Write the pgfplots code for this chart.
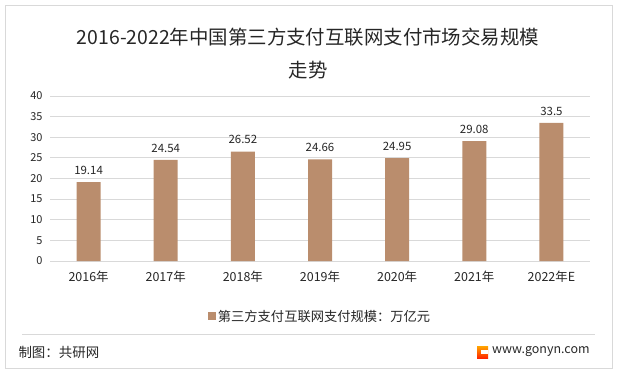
\documentclass[border=0pt]{standalone}
\usepackage{pgfplots}
\pgfplotsset{compat=1.18}
\usepackage{fontspec}
\setmainfont{Noto Sans CJK SC}
\definecolor{barc}{RGB}{186,141,109}
\definecolor{gridc}{RGB}{217,217,217}
\definecolor{txt}{RGB}{38,38,38}
\begin{document}
\begin{tikzpicture}[x=1bp,y=1bp]
\path[use as bounding box] (0,0) rectangle (617,373);
\draw[gridc,line width=0.8bp] (5,5) rectangle (612,368);
\draw[gridc,line width=0.8bp] (22,39) -- (595,39);
\node[anchor=west,font=\fontsize{13.5}{15}\selectfont,text=txt] at (15,21) {制图：共研网};
\shade[top color=orange!70!yellow, bottom color=red!70!orange] (477,15) rectangle (488,27);
\fill[white] (481,19) rectangle (488,23);
\node[anchor=west,font=\fontsize{12.5}{14}\selectfont,text=txt,inner sep=0] at (492,21) {www.gonyn.com};
\node[font=\fontsize{19.5}{21}\selectfont,text=txt] at (308,336) {2016-2022年中国第三方支付互联网支付市场交易规模};
\node[font=\fontsize{19.5}{21}\selectfont,text=txt] at (308,303) {走势};
\begin{axis}[
  at={(50bp,112bp)}, anchor=south west,
  scale only axis, width=540bp, height=165bp,
  xmin=-0.5, xmax=6.5, ymin=0, ymax=40,
  ytick={0,5,...,40},
  xtick={0,...,6},
  xticklabels={2016年,2017年,2018年,2019年,2020年,2021年,2022年E},
  axis line style={draw=none},
  axis x line*=bottom,
  x axis line style={draw=gridc},
  major tick length=0,
  ymajorgrids, grid style={gridc,line width=0.8bp},
  tick label style={text=txt},
  yticklabel style={font=\fontsize{11}{12}\selectfont, xshift=-4bp},
  xticklabel style={font=\fontsize{12.5}{14}\selectfont, yshift=-6bp},
  /pgf/number format/assume math mode=true,
  ybar, bar width=24bp,
  nodes near coords,
  every node near coord/.append style={font=\fontsize{11.5}{13}\selectfont, text=txt, yshift=4bp},
  point meta=explicit symbolic,
  legend style={at={(0.5,-0.335)}, anchor=center, draw=none, font=\fontsize{13.3}{15}\selectfont, text=txt},
  legend image code/.code={\fill[barc] (0bp,-4bp) rectangle (8bp,4bp);},
]
\addplot[fill=barc, draw=none] coordinates {
  (0,19.14) [19.14]
  (1,24.54) [24.54]
  (2,26.52) [26.52]
  (3,24.66) [24.66]
  (4,24.95) [24.95]
  (5,29.08) [29.08]
  (6,33.5) [33.5]
};
\addlegendentry{第三方支付互联网支付规模：万亿元}
\end{axis}
\end{tikzpicture}
\end{document}
